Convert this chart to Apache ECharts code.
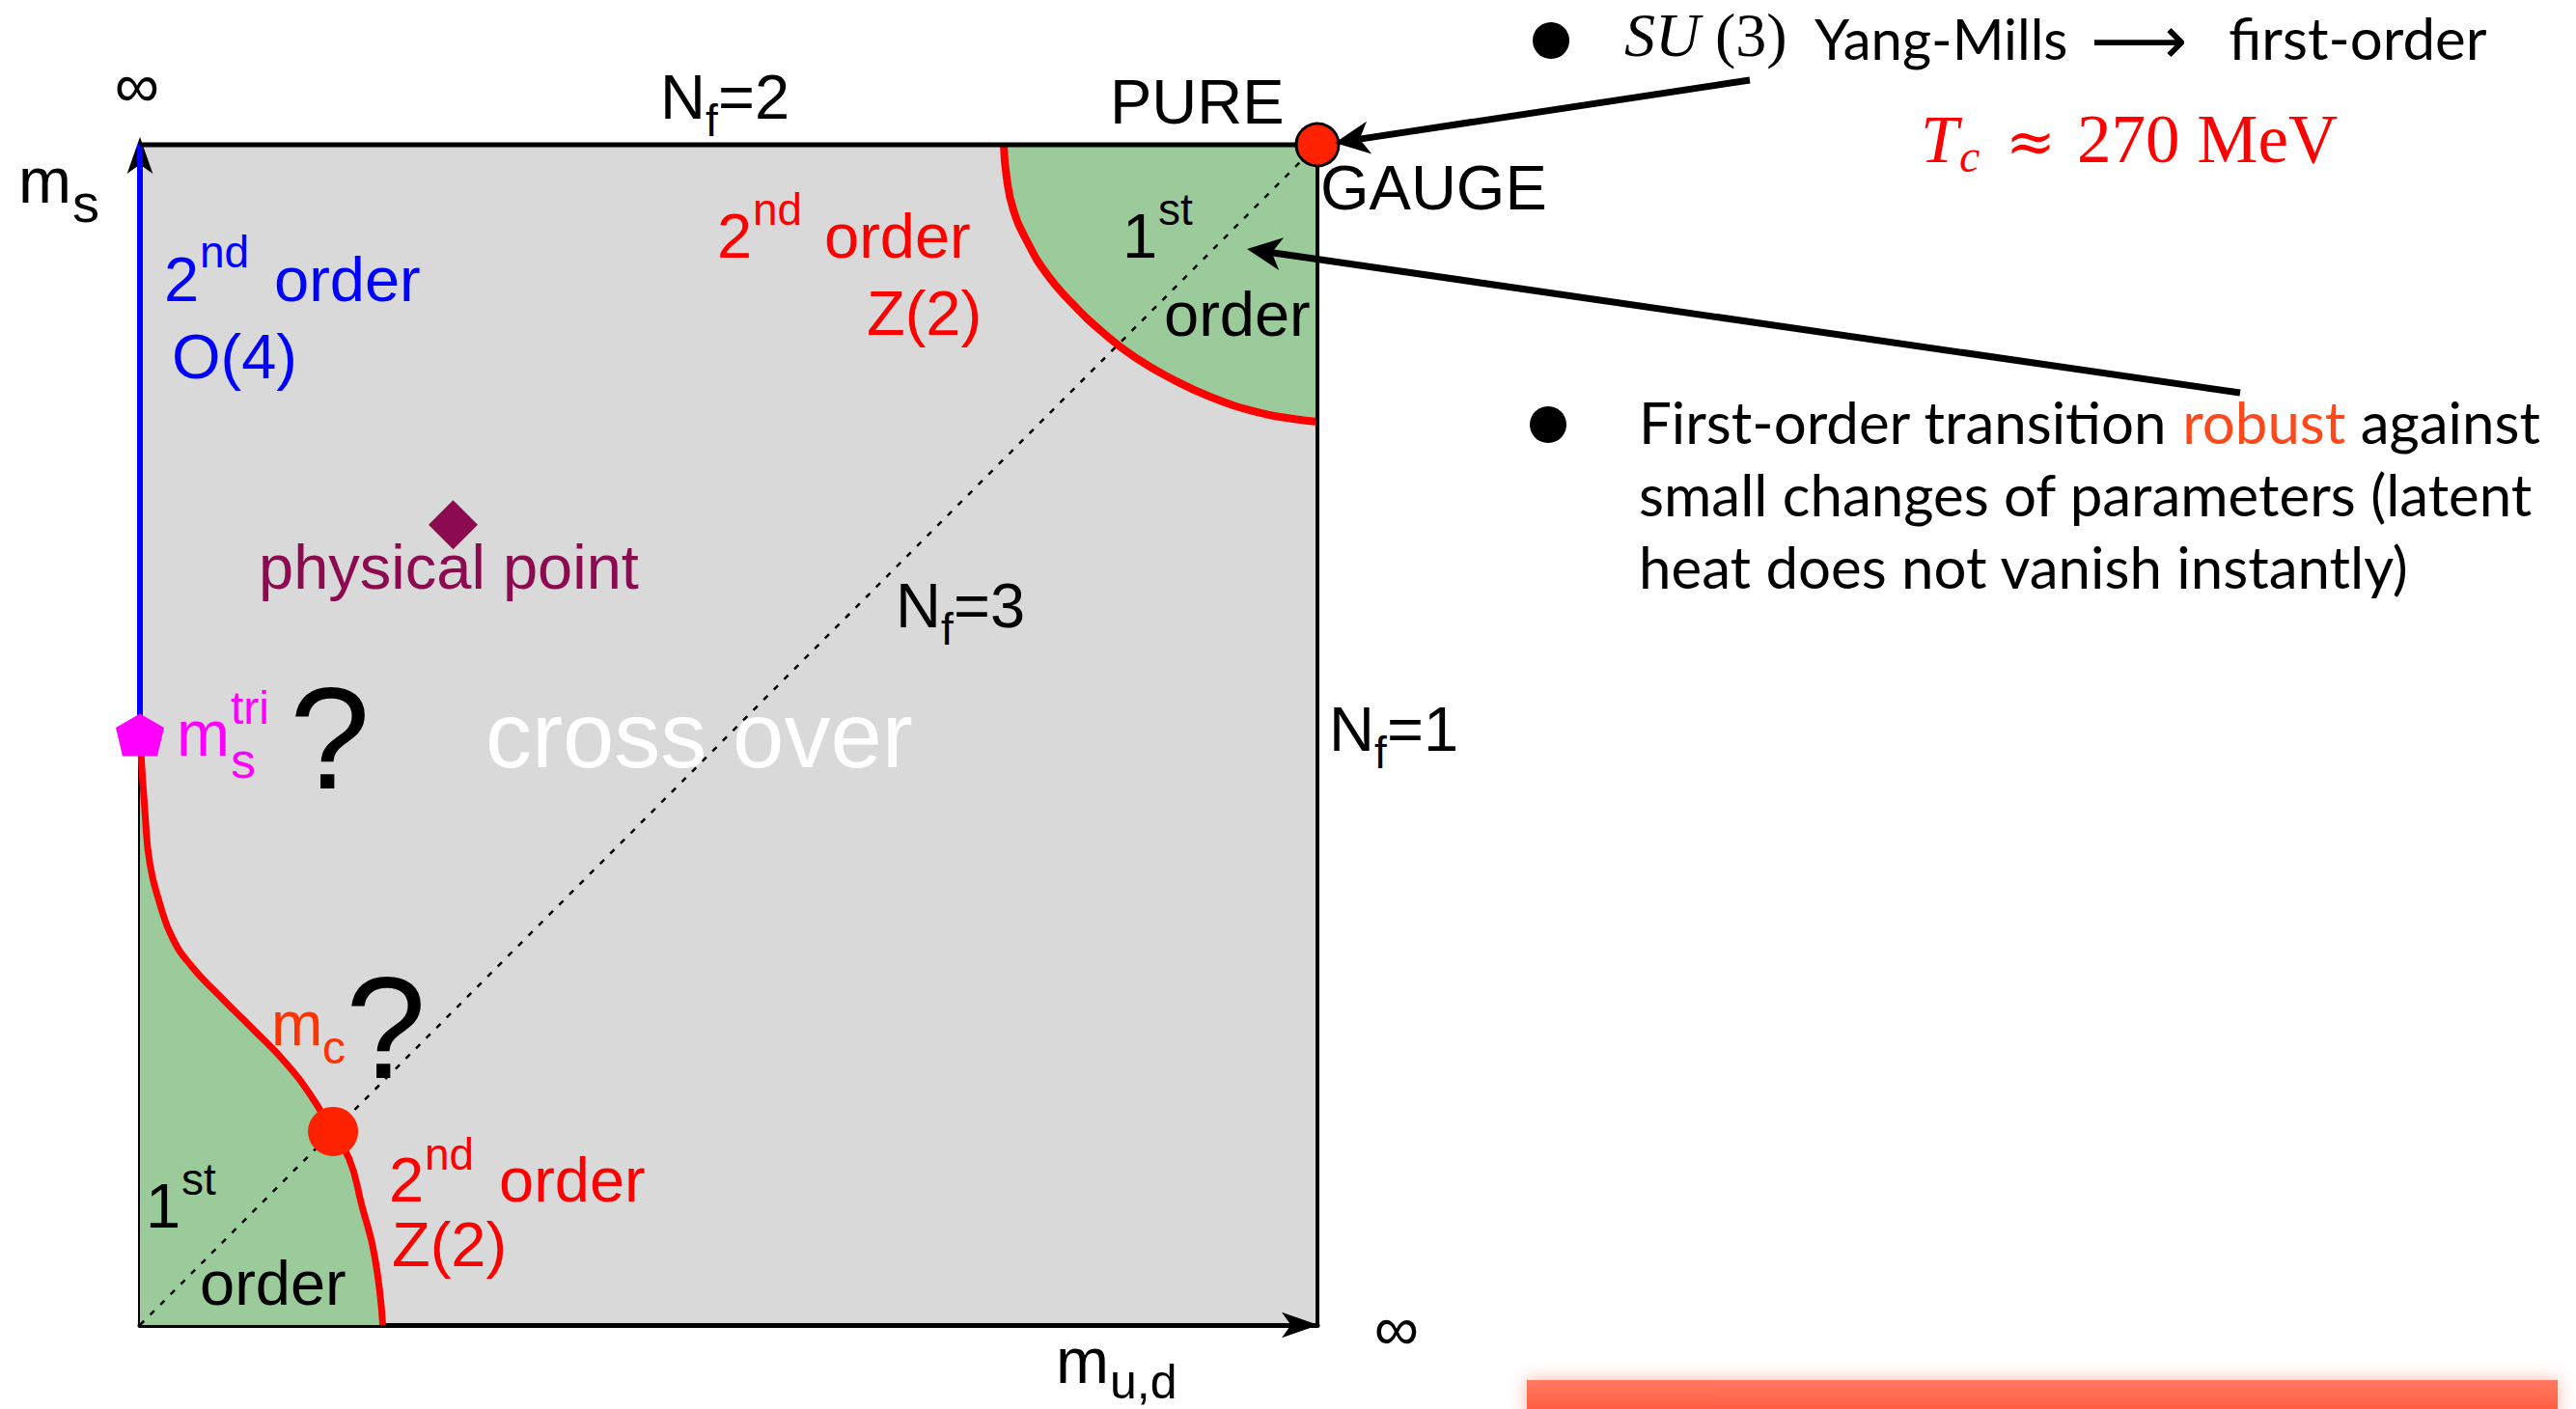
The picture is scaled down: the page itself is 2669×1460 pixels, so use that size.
<!DOCTYPE html>
<html>
<head>
<meta charset="utf-8">
<script src="https://cdn.jsdelivr.net/npm/echarts@6/dist/echarts.min.js"></script>
<style>
  html, body { margin: 0; padding: 0; background: #ffffff; }
  #chart { width: 2669px; height: 1460px; }
</style>
</head>
<body>
<div id="chart"></div>
<script>
// Columbia plot: nature of the QCD thermal transition as a function of the
// light quark mass m_ud (x) and the strange quark mass m_s (y).
// Both axes run from 0 to infinity, drawn here on a normalised 0..100 scale.

// Z(2) critical line closing off the chiral first-order corner
const chiralLineX = [0, 0.43, 0.84, 1.66, 2.76, 4.39, 6.85, 9.57, 12.30, 14.48, 16.34, 17.76, 18.85, 19.94, 20.62];
const chiralLineY = [50, 43.4, 39.1, 35.8, 32.8, 30.4, 27.8, 25.1, 22.3, 19.5, 16.4, 14.1, 10.1, 5.8, 0];

// Z(2) critical line closing off the quenched (pure gauge) first-order corner
const gaugeLineX = [73.36, 73.60, 74.16, 75.34, 76.98, 79.09, 81.68, 84.49, 87.78, 91.07, 94.83, 97.64, 100];
const gaugeLineY = [100, 97.27, 94.54, 91.82, 89.09, 86.64, 84.18, 82.00, 80.09, 78.58, 77.36, 76.82, 76.54];

// O(4) second-order line at m_ud = 0, from the tricritical point up to m_s = infinity
const o4LineX = [0, 0];
const o4LineY = [50, 100];

// N_f = 3 diagonal (m_ud = m_s)
const nf3LineX = [0, 100];
const nf3LineY = [0, 100];

// N_f = 2 edge (m_s = infinity) and N_f = 1 edge (m_ud = infinity)
const nf2EdgeX = [0, 100];
const nf2EdgeY = [100, 100];
const nf1EdgeX = [100, 100];
const nf1EdgeY = [0, 100];

// special points [m_ud, m_s]
const tricriticalPoint = [0, 50];
const criticalPoint = [16.4, 16.4];
const pureGaugePoint = [100, 100];
const physicalPoint = [26.6, 67.8];

// ---------------------------------------------------------------------------
const pts = (xs, ys) => xs.map((x, i) => [x, ys[i]]);

const GREY = '#d9d9d9';
const GREEN = '#9ccb9b';
const RED = '#ff0000';
const DOT = '#ff2200';
const BLUE = '#0000ff';
const MAGENTA = '#ff00ff';
const PURPLE = '#8c0b50';
const ORANGE = '#ff3300';
const ROBUST = '#fd4a1c';

const FAM = {
  sans: '"Liberation Sans", Arial, Helvetica, sans-serif',
  lato: 'Lato, "Open Sans", sans-serif',
  serif: '"Liberation Serif", "Times New Roman", serif',
  dserif: '"DejaVu Serif", serif',
  dejavu: '"DejaVu Sans", sans-serif'
};
// distance from the em-box middle down to the alphabetic baseline, per family
const MIDK = { sans: 0.35, lato: 0.387, serif: 0.3375, dserif: 0.346, dejavu: 0.346 };

// text placed by its left edge and baseline (or by its centre when o.mid is set)
function T(x, base, text, size, fill, fam, o) {
  fam = fam || 'sans';
  o = o || {};
  const font = (o.italic ? 'italic ' : 'normal ') + 'normal ' + size + 'px ' + FAM[fam];
  const y = o.mid ? base : base - MIDK[fam] * size;
  const align = o.align || 'left';
  return {
    type: 'text', x: x, y: y, z: 100, silent: true,
    style: {
      text: text, fill: fill || '#000', font: font,
      textAlign: align, align: align,
      textVerticalAlign: 'middle', verticalAlign: 'middle',
      rich: o.rich
    }
  };
}

// stealth arrow from tail to tip
function arrow(tail, tip, lw, L, w, notch) {
  const dx = tip[0] - tail[0], dy = tip[1] - tail[1];
  const len = Math.hypot(dx, dy);
  const ux = dx / len, uy = dy / len, nx = -uy, ny = ux;
  const bx = tip[0] - L * ux, by = tip[1] - L * uy;
  const nPt = [tip[0] - notch * ux, tip[1] - notch * uy];
  return [
    { type: 'line', z: 90, silent: true,
      shape: { x1: tail[0], y1: tail[1], x2: nPt[0], y2: nPt[1] },
      style: { stroke: '#000', lineWidth: lw } },
    { type: 'polygon', z: 91, silent: true,
      shape: { points: [tip, [bx + w * nx, by + w * ny], nPt, [bx - w * nx, by - w * ny]] },
      style: { fill: '#000' } }
  ];
}

const bodyFont = 'normal normal 60px ' + FAM.lato;
function bodyLine(x, base, text, rich) {
  return T(x, base, text, 60, '#000', 'lato', { rich: rich });
}
const bodyRich = {
  a: { fill: '#000', font: bodyFont },
  r: { fill: ROBUST, font: bodyFont }
};

const labels = [
  // axis ends and axis names
  T(142, 88, '\u221e', 65, '#000', 'sans', { align: 'center', mid: true }),
  T(1447, 1376, '\u221e', 65, '#000', 'sans', { align: 'center', mid: true }),
  T(19, 210, 'm', 66), T(75, 230, 's', 56),
  T(1094, 1433, 'm', 66), T(1150, 1449, 'u,d', 50),

  // flavour-number edges and corners
  T(684, 123, 'N', 65), T(731, 141, 'f', 46), T(744, 123, '=2', 65),
  T(928, 650, 'N', 65), T(975, 668, 'f', 46), T(988, 650, '=3', 65),
  T(1377, 778, 'N', 65), T(1424, 796, 'f', 46), T(1437, 778, '=1', 65),
  T(1150, 128, 'PURE', 65), T(1368, 217, 'GAUGE', 65),

  // O(4) line
  T(170, 312, '2', 65, BLUE), T(207, 277, 'nd', 46, BLUE), T(284, 312, 'order', 65, BLUE),
  T(178, 392, 'O(4)', 65, BLUE),

  // upper Z(2) line and quenched first-order region
  T(743, 267, '2', 65, RED), T(780, 233, 'nd', 46, RED), T(854, 267, 'order', 65, RED),
  T(898, 347, 'Z(2)', 65, RED),
  T(1163, 267, '1', 65), T(1200, 233, 'st', 46), T(1206, 348, 'order', 65),

  // physical point and crossover region
  T(268, 610, 'physical point', 65, PURPLE),
  T(503, 795, 'cross over', 96, '#ffffff'),

  // tricritical strange mass
  T(183, 783, 'm', 66, MAGENTA), T(239, 806, 's', 52, MAGENTA), T(239, 750, 'tri', 48, MAGENTA),
  T(300, 817, '?', 150),

  // critical light mass
  T(281, 1083, 'm', 64, ORANGE), T(334, 1102, 'c', 48, ORANGE),
  T(358, 1117, '?', 150),

  // chiral first-order region and lower Z(2) line
  T(151, 1272, '1', 65), T(188, 1238, 'st', 46), T(207, 1352, 'order', 65),
  T(403, 1245, '2', 65, RED), T(440, 1212, 'nd', 46, RED), T(517, 1245, 'order', 65, RED),
  T(406, 1312, 'Z(2)', 65, RED),

  // side notes
  { type: 'circle', z: 100, silent: true, shape: { cx: 1607, cy: 42, r: 19 }, style: { fill: '#000' } },
  T(1683, 58, 'SU', 64, '#000', 'serif', { italic: true }),
  T(1777, 58, '(3)', 64, '#000', 'serif'),
  T(1880, 62, 'Yang-Mills', 58, '#000', 'lato'),
  T(2166, 42, '\u27f6', 70, '#000', 'dejavu', { mid: true }),
  T(2309, 62, 'first-order', 60, '#000', 'lato'),
  T(1990, 168, 'T', 70, RED, 'serif', { italic: true }),
  T(2030, 178, 'c', 48, RED, 'serif', { italic: true }),
  T(2078, 168, '\u2248', 62, RED, 'dserif'),
  T(2152, 168, '270 MeV', 71, RED, 'serif'),

  { type: 'circle', z: 100, silent: true, shape: { cx: 1604, cy: 440, r: 19 }, style: { fill: '#000' } },
  bodyLine(1698, 460, '{a|First-order transition }{r|robust}{a| against}', bodyRich),
  bodyLine(1698, 535, 'small changes of parameters (latent'),
  bodyLine(1698, 610, 'heat does not vanish instantly)'),

  // pointers from the notes into the diagram
  ...arrow([1813, 83], [1383, 148], 7, 36, 17, 26),
  ...arrow([2321, 407], [1292, 258], 7, 36, 17, 26),

  // highlight bar along the bottom edge
  { type: 'rect', z: 80, silent: true,
    shape: { x: 1582, y: 1430, width: 1068, height: 40 },
    style: {
      fill: new echarts.graphic.LinearGradient(0, 0, 0, 1, [
        { offset: 0, color: '#ff7a62' }, { offset: 1, color: '#ff5538' }
      ]),
      shadowBlur: 18, shadowColor: 'rgba(255, 90, 60, 0.45)'
    } }
];

const lineBase = { type: 'line', showSymbol: false, symbol: 'none', clip: false, silent: true, animation: false };
const axisCommon = {
  type: 'value', min: 0, max: 100,
  axisTick: { show: false }, axisLabel: { show: false }, splitLine: { show: false }
};

const option = {
  animation: false,
  backgroundColor: '#ffffff',
  grid: { left: 145, top: 150, width: 1220, height: 1223, show: true, backgroundColor: GREY, borderWidth: 0 },
  xAxis: Object.assign({}, axisCommon, {
    axisLine: { show: true, lineStyle: { color: '#000', width: 5 },
      symbol: ['none', 'arrow'], symbolSize: [20, 38], symbolOffset: [0, 1] }
  }),
  yAxis: Object.assign({}, axisCommon, {
    offset: 4,
    axisLine: { show: true, lineStyle: { color: '#000', width: 5 },
      symbol: ['none', 'arrow'], symbolSize: [20, 38], symbolOffset: [0, 8] }
  }),
  series: [
    // first-order regions
    Object.assign({}, lineBase, {
      data: pts(chiralLineX, chiralLineY), smooth: 0.5, z: 1,
      lineStyle: { width: 0, opacity: 0 },
      areaStyle: { color: GREEN, opacity: 1, origin: 'start' }
    }),
    Object.assign({}, lineBase, {
      data: pts(gaugeLineX, gaugeLineY), smooth: 0.5, z: 1,
      lineStyle: { width: 0, opacity: 0 },
      areaStyle: { color: GREEN, opacity: 1, origin: 'end' }
    }),
    // N_f = 3 diagonal
    Object.assign({}, lineBase, {
      data: pts(nf3LineX, nf3LineY), z: 3,
      lineStyle: { color: '#000', width: 2.5, type: [6, 9] }
    }),
    // O(4) line
    Object.assign({}, lineBase, {
      data: pts(o4LineX, o4LineY), z: 4,
      lineStyle: { color: BLUE, width: 6 }
    }),
    // Z(2) critical lines
    Object.assign({}, lineBase, {
      data: pts(chiralLineX, chiralLineY), smooth: 0.5, z: 5,
      lineStyle: { color: RED, width: 7 }
    }),
    Object.assign({}, lineBase, {
      data: pts(gaugeLineX, gaugeLineY), smooth: 0.5, z: 5,
      lineStyle: { color: RED, width: 8 }
    }),
    // N_f = 2 and N_f = 1 edges
    Object.assign({}, lineBase, {
      data: pts(nf2EdgeX, nf2EdgeY), z: 6,
      lineStyle: { color: '#000', width: 5 }
    }),
    Object.assign({}, lineBase, {
      data: pts(nf1EdgeX, nf1EdgeY), z: 6,
      lineStyle: { color: '#000', width: 4 }
    }),
    // special points
    { type: 'scatter', z: 10, silent: true, clip: false, data: [physicalPoint],
      symbol: 'diamond', symbolSize: 51, itemStyle: { color: PURPLE, opacity: 1 } },
    { type: 'scatter', z: 10, silent: true, clip: false, data: [tricriticalPoint],
      symbol: 'path://M50,0 L100,33 L86,100 L14,100 L0,33 Z', symbolSize: [50, 44],
      symbolKeepAspect: false, itemStyle: { color: MAGENTA, opacity: 1 } },
    { type: 'scatter', z: 10, silent: true, clip: false, data: [criticalPoint],
      symbol: 'circle', symbolSize: [52, 51], itemStyle: { color: DOT, opacity: 1 } },
    { type: 'scatter', z: 10, silent: true, clip: false, data: [pureGaugePoint],
      symbol: 'circle', symbolSize: 44,
      itemStyle: { color: DOT, borderColor: '#000', borderWidth: 3, opacity: 1 } }
  ],
  graphic: { elements: labels }
};

const chart = echarts.init(document.getElementById('chart'), null, { renderer: 'svg', width: 2669, height: 1460 });
chart.setOption(option);
</script>
</body>
</html>
